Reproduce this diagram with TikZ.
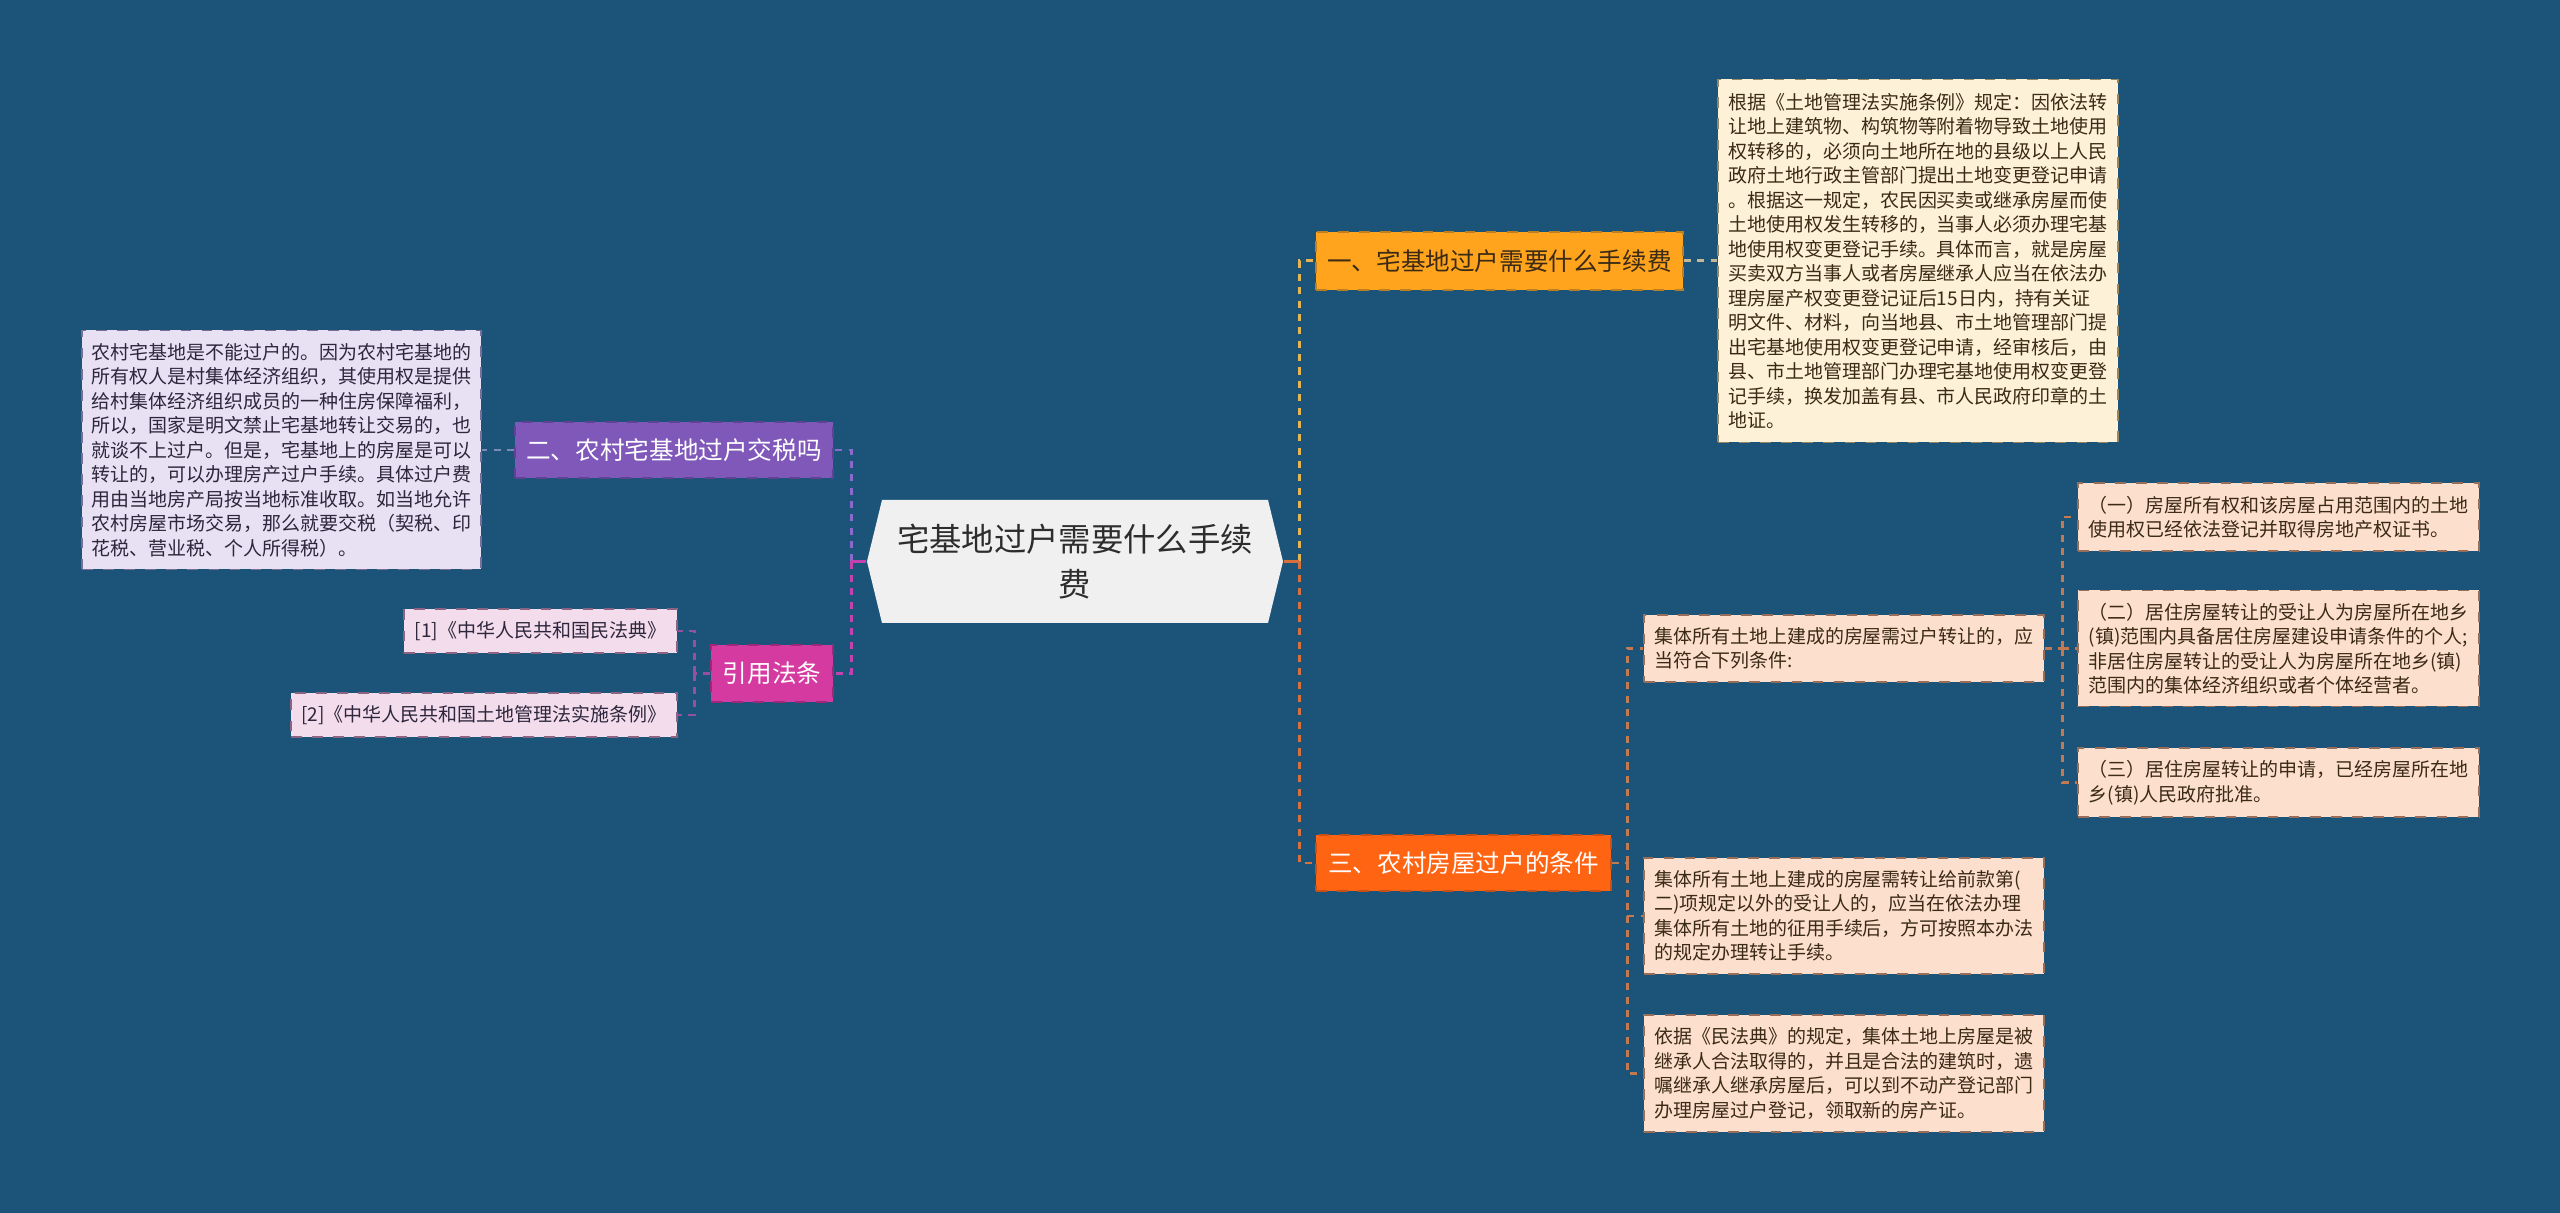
\documentclass[tikz,border=0pt]{standalone}
\usepackage{fontspec}
\setmainfont{Noto Sans CJK SC}
\definecolor{sea}{RGB}{27,84,120}
\definecolor{rootfill}{RGB}{240,240,240}
\definecolor{rootink}{RGB}{45,45,45}
\definecolor{amber}{RGB}{255,164,28}
\definecolor{amberline}{RGB}{186,128,34}
\definecolor{cream}{RGB}{253,241,216}
\definecolor{creamline}{RGB}{150,135,100}
\definecolor{blaze}{RGB}{255,100,18}
\definecolor{blazeline}{RGB}{200,80,20}
\definecolor{peach}{RGB}{253,223,206}
\definecolor{peachline}{RGB}{150,110,90}
\definecolor{violet}{RGB}{127,88,186}
\definecolor{violetline}{RGB}{95,65,150}
\definecolor{lilac}{RGB}{231,225,243}
\definecolor{lilacline}{RGB}{120,110,150}
\definecolor{orchid}{RGB}{212,58,160}
\definecolor{orchidline}{RGB}{160,40,120}
\definecolor{blush}{RGB}{243,220,236}
\definecolor{blushline}{RGB}{140,100,130}
\definecolor{brownink}{RGB}{58,42,22}
\definecolor{plumink}{RGB}{45,38,60}
\definecolor{lyellow}{RGB}{230,180,80}
\definecolor{lorange}{RGB}{214,112,60}
\definecolor{lbrown}{RGB}{196,122,80}
\definecolor{lbeige}{RGB}{196,184,150}
\definecolor{lpurple}{RGB}{140,105,205}
\definecolor{lmagenta}{RGB}{196,66,176}
\definecolor{lplum}{RGB}{150,80,160}
\definecolor{lslate}{RGB}{120,140,180}
\usetikzlibrary{positioning}
\tikzset{
  topic/.style={dashed, line width=0.5pt, inner sep=0pt, align=center,
                font=\fontsize{7.0}{9}\selectfont},
  note/.style={dashed, line width=0.5pt, inner sep=0pt, align=left,
               font=\fontsize{5.4}{6.97}\selectfont},
  link/.style={line width=0.85pt, dash pattern=on 2pt off 1.8pt},
  stem/.style={line width=0.85pt},
}

\begin{document}
\begin{tikzpicture}
    \useasboundingbox (0,0) rectangle (25.6,-12.13);
    \fill[sea] (0,0) rectangle (25.6,-12.13);
    % centre
    \fill[rootfill] (8.82,-5.0) -- (12.68,-5.0) -- (12.83,-5.615) -- (12.68,-6.23)
      -- (8.82,-6.23) -- (8.67,-5.615) -- cycle;
    \node[align=center, text=rootink, inner sep=0pt, minimum width=4.16cm, minimum height=1.23cm,
      font=\fontsize{9.2}{12.8}\selectfont] (root) at (10.75,-5.615)
      {宅基地过户需要什么手续\\费};
    % right side
    \node[topic, fill=amber, draw=amberline, text=brownink, minimum width=3.67cm, minimum height=0.58cm]
      (fee) at (14.995,-2.61) {一、宅基地过户需要什么手续费};
    \node[note, fill=cream, draw=creamline, text=brownink, minimum width=4.0cm, minimum height=3.63cm]
      (feenote) at (19.18,-2.61) {根据《土地管理法实施条例》规定：因依法转\\
      让地上建筑物、构筑物等附着物导致土地使用\\
      权转移的，必须向土地所在地的县级以上人民\\
      政府土地行政主管部门提出土地变更登记申请\\
      。根据这一规定，农民因买卖或继承房屋而使\\
      土地使用权发生转移的，当事人必须办理宅基\\
      地使用权变更登记手续。具体而言，就是房屋\\
      买卖双方当事人或者房屋继承人应当在依法办\\
      理房屋产权变更登记证后15日内，持有关证\\
      明文件、材料，向当地县、市土地管理部门提\\
      出宅基地使用权变更登记申请，经审核后，由\\
      县、市土地管理部门办理宅基地使用权变更登\\
      记手续，换发加盖有县、市人民政府印章的土\\
      地证。};
    \node[topic, fill=blaze, draw=blazeline, text=white, minimum width=2.95cm, minimum height=0.56cm]
      (cond) at (14.635,-8.63) {三、农村房屋过户的条件};
    \node[note, fill=peach, draw=peachline, text=brownink, minimum width=4.0cm, minimum height=0.67cm]
      (caseA) at (18.44,-6.485) {集体所有土地上建成的房屋需过户转让的，应\\
      当符合下列条件:};
    \node[note, fill=peach, draw=peachline, text=brownink, minimum width=4.0cm, minimum height=1.16cm]
      (caseB) at (18.44,-9.16) {集体所有土地上建成的房屋需转让给前款第(\\
      二)项规定以外的受让人的，应当在依法办理\\
      集体所有土地的征用手续后，方可按照本办法\\
      的规定办理转让手续。};
    \node[note, fill=peach, draw=peachline, text=brownink, minimum width=4.0cm, minimum height=1.17cm]
      (caseC) at (18.44,-10.735) {依据《民法典》的规定，集体土地上房屋是被\\
      继承人合法取得的，并且是合法的建筑时，遗\\
      嘱继承人继承房屋后，可以到不动产登记部门\\
      办理房屋过户登记，领取新的房产证。};
    \node[note, fill=peach, draw=peachline, text=brownink, minimum width=4.01cm, minimum height=0.68cm]
      (itemA) at (22.785,-5.17) {（一）房屋所有权和该房屋占用范围内的土地\\
      使用权已经依法登记并取得房地产权证书。};
    \node[note, fill=peach, draw=peachline, text=brownink, minimum width=4.01cm, minimum height=1.16cm]
      (itemB) at (22.785,-6.485) {（二）居住房屋转让的受让人为房屋所在地乡\\
      (镇)范围内具备居住房屋建设申请条件的个人;\\
      非居住房屋转让的受让人为房屋所在地乡(镇)\\
      范围内的集体经济组织或者个体经营者。};
    \node[note, fill=peach, draw=peachline, text=brownink, minimum width=4.01cm, minimum height=0.69cm]
      (itemC) at (22.785,-7.825) {（三）居住房屋转让的申请，已经房屋所在地\\
      乡(镇)人民政府批准。};
    % left side
    \node[topic, fill=violet, draw=violetline, text=white, minimum width=3.18cm, minimum height=0.56cm]
      (tax) at (6.74,-4.50) {二、农村宅基地过户交税吗};
    \node[note, fill=lilac, draw=lilacline, text=plumink, minimum width=3.99cm, minimum height=2.39cm]
      (taxnote) at (2.815,-4.50) {农村宅基地是不能过户的。因为农村宅基地的\\
      所有权人是村集体经济组织，其使用权是提供\\
      给村集体经济组织成员的一种住房保障福利，\\
      所以，国家是明文禁止宅基地转让交易的，也\\
      就谈不上过户。但是，宅基地上的房屋是可以\\
      转让的，可以办理房产过户手续。具体过户费\\
      用由当地房产局按当地标准收取。如当地允许\\
      农村房屋市场交易，那么就要交税（契税、印\\
      花税、营业税、个人所得税）。};
    \node[topic, fill=orchid, draw=orchidline, text=white, minimum width=1.22cm, minimum height=0.57cm]
      (law) at (7.72,-6.735) {引用法条};
    \node[note, align=center, fill=blush, draw=blushline, text=plumink, minimum width=2.73cm, minimum height=0.44cm]
      (ref1) at (5.405,-6.31) {[1]《中华人民共和国民法典》};
    \node[note, align=center, fill=blush, draw=blushline, text=plumink, minimum width=3.86cm, minimum height=0.44cm]
      (ref2) at (4.84,-7.15) {[2]《中华人民共和国土地管理法实施条例》};
    % connectors
    \coordinate (rspine) at (12.99,-5.615);
    \coordinate (cspine) at (16.27,-8.63);
    \coordinate (aspine) at (20.62,-6.485);
    \coordinate (lspine) at (8.51,-5.615);
    \coordinate (refspine) at (6.94,-6.735);
    \draw[link, lyellow] (rspine) |- (fee.west);
    \draw[link, lorange] (rspine) |- (cond.west);
    \draw[stem, lorange] (root.east) -- (rspine);
    \draw[link, lbeige] (fee.east) -- (feenote.west);
    \draw[link, lbrown] (cond.east) -- (cspine);
    \draw[link, lbrown] (cspine) |- (caseA.west);
    \draw[link, lbrown] (cspine) |- (caseB.west);
    \draw[link, lbrown] (cspine) |- (caseC.west);
    \draw[link, lbrown] (caseA.east) -- (aspine);
    \draw[link, lbrown] (aspine) |- (itemA.west);
    \draw[link, lbrown] (aspine) |- (itemB.west);
    \draw[link, lbrown] (aspine) |- (itemC.west);
    \draw[link, lpurple] (lspine) |- (tax.east);
    \draw[link, lmagenta] (lspine) |- (law.east);
    \draw[stem, lmagenta] (root.west) -- (lspine);
    \draw[link, lslate] (tax.west) -- (taxnote.east);
    \draw[link, lplum] (law.west) -- (refspine);
    \draw[link, lplum] (refspine) |- (ref1.east);
    \draw[link, lplum] (refspine) |- (ref2.east);
\end{tikzpicture}
\end{document}
